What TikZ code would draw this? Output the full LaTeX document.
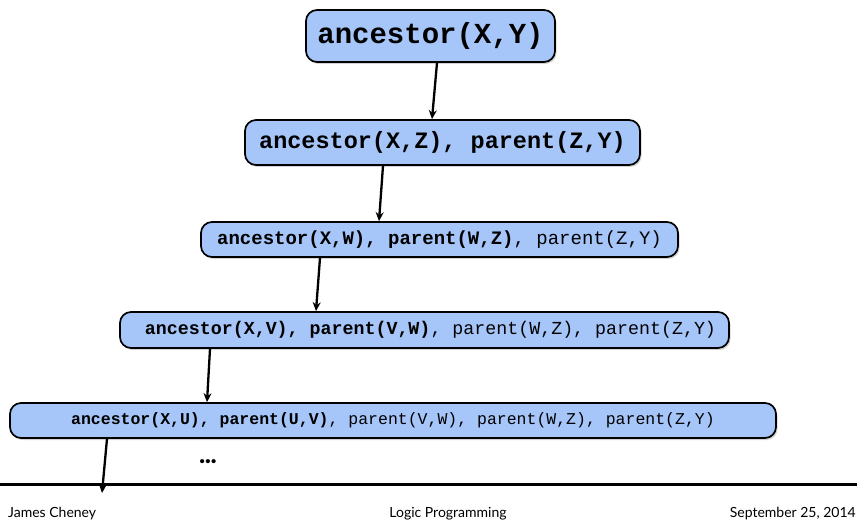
\documentclass[tikz,border=0pt]{standalone}
\usepackage{fontspec}
\setmonofont{Liberation Mono}
\newfontfamily\footfont{Lato}
\newfontfamily\dotsfont{Lato Black}
\usetikzlibrary{shadows,arrows.meta}
\definecolor{boxblue}{RGB}{166,197,248}
\begin{document}
\begin{tikzpicture}[x=1pt,y=-1pt,
  goal/.style={draw=black, line width=1.7pt, fill=boxblue, rounded corners=11pt,
    inner sep=0pt, align=center,
    drop shadow={shadow xshift=1.5pt, shadow yshift=-2pt, opacity=0.35}},
  link/.style={line width=2.3pt, -{Stealth[length=9pt,width=8pt]}},
  foot/.style={font=\footfont\fontsize{14}{16}\selectfont, inner sep=0pt}]
\useasboundingbox (0,0) rectangle (857,521);
\node[goal, minimum width=249pt, minimum height=52pt,
  font=\ttfamily\bfseries\fontsize{29}{32}\selectfont] (g1) at (430.5,36) {ancestor(X,Y)};
\node[goal, minimum width=395pt, minimum height=45pt,
  font=\ttfamily\fontsize{23.5}{26}\selectfont] (g2) at (442.5,142.5)
  {\textbf{ancestor(X,Z), parent(Z,Y)}};
\node[goal, minimum width=477pt, minimum height=35pt,
  font=\ttfamily\fontsize{19}{22}\selectfont] (g3) at (439.5,239.5)
  {\textbf{ancestor(X,W), parent(W,Z)}, parent(Z,Y)};
\node[goal, minimum width=609pt, minimum height=36pt,
  font=\ttfamily\fontsize{18.3}{21}\selectfont] (g4) at (424.5,330)
  {\hspace*{12pt}\textbf{ancestor(X,V), parent(V,W)}, parent(W,Z), parent(Z,Y)};
\node[goal, minimum width=766pt, minimum height=35pt,
  font=\ttfamily\fontsize{16.5}{19}\selectfont] (g5) at (393,420.5)
  {\textbf{ancestor(X,U), parent(U,V)}, parent(V,W), parent(W,Z), parent(Z,Y)};
\coordinate (end5) at (102,493);
\draw[link] ([xshift=6.5pt]g1.south) -- ([xshift=-10.5pt]g2.north);
\draw[link] ([xshift=-59.5pt]g2.south) -- ([xshift=-60.5pt]g3.north);
\draw[link] ([xshift=-119.5pt]g3.south) -- ([xshift=-108.5pt]g4.north);
\draw[link] ([xshift=-214.5pt]g4.south) -- ([xshift=-186pt]g5.north);
\draw[link] ([xshift=-286pt]g5.south) -- (end5);
\node[font=\dotsfont\fontsize{24}{26}\selectfont, inner sep=0pt] (dots) at (208,462) {...};
\coordinate (ruleL) at (0,484);
\coordinate (ruleR) at (857,484);
\draw[line width=3pt] (ruleL) -- (ruleR);
\node[foot, anchor=base west] (author) at (8,517) {James Cheney};
\node[foot, anchor=base] (title) at (448,517) {Logic Programming};
\node[foot, anchor=base east] (date) at (856,517) {September 25, 2014};
\end{tikzpicture}
\end{document}
